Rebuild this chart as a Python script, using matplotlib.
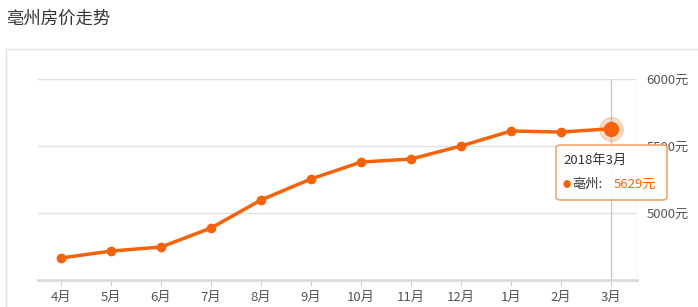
import matplotlib.pyplot as plt
from matplotlib.patches import FancyBboxPatch, Rectangle

plt.rcParams['font.family'] = ['Noto Sans CJK SC', 'DejaVu Sans']

months = ['4月', '5月', '6月', '7月', '8月', '9月', '10月', '11月', '12月', '1月', '2月', '3月']
prices = [4664, 4716, 4746, 4888, 5097, 5254, 5380, 5403, 5500, 5612, 5604, 5629]
yticks = [5000, 5500, 6000]
title = '亳州房价走势'
city = '亳州'
tip_date = '2018年3月'

orange = '#f5620a'
grid_c = '#e0e0e0'

fig = plt.figure(figsize=(6.98, 3.07), dpi=100)
fig.patch.set_facecolor('white')

# outer panel frame
fig.patches.append(Rectangle((6 / 698, -0.05), 1.0, 1 - 49 / 307 + 0.05,
                             transform=fig.transFigure, fill=False,
                             edgecolor='#e3e3e3', linewidth=1.0))
fig.text(7 / 698, 1 - 19 / 307, title, fontsize=12.5, color='#333333', va='center')

ax = fig.add_axes([38 / 698, 1 - 280 / 307, 599 / 698, 201 / 307])
x = list(range(len(months)))
ax.set_xlim(-0.46, 11.52)
ax.set_ylim(4500, 6000)

for y in yticks:
    ax.axhline(y, color=grid_c, linewidth=1, zorder=0)
ax.axvline(11.52, color=grid_c, linewidth=1, zorder=0)
# crosshair at hovered point
ax.axvline(11, color='#c8c8d0', linewidth=1, zorder=1)

ax.plot(x, prices, color=orange, linewidth=2.5, marker='o', markersize=6, zorder=3)
ax.plot(x[-1], prices[-1], 'o', color=orange, markersize=17, alpha=0.22, zorder=2)
ax.plot(x[-1], prices[-1], 'o', color=orange, markersize=10, zorder=4)

for s in ['top', 'left', 'right']:
    ax.spines[s].set_visible(False)
ax.spines['bottom'].set_color('#dadada')
ax.spines['bottom'].set_linewidth(2)

ax.set_xticks(x)
ax.set_xticklabels(months, fontsize=9.5, color='#555555')
ax.tick_params(axis='x', length=4, color='#cccccc', pad=4)
ax.yaxis.tick_right()
ax.set_yticks(yticks)
ax.set_yticklabels([f'{v}元' for v in yticks], fontsize=9.5, color='#555555')
ax.tick_params(axis='y', length=0, pad=7)

# tooltip
tb = FancyBboxPatch((556 / 698, 1 - 200 / 307), 111 / 698, 55 / 307,
                    boxstyle='round,pad=0,rounding_size=0.008',
                    transform=fig.transFigure, facecolor='white', alpha=0.93,
                    edgecolor='#f0a060', linewidth=1.2, zorder=10)
fig.patches.append(tb)
fig.text(563 / 698, 1 - 160 / 307, tip_date, fontsize=9.5, color='#333333',
         va='center', zorder=11)
fig.text(563 / 698, 1 - 184 / 307, '●', fontsize=6, color=orange, va='center', zorder=11)
fig.text(572 / 698, 1 - 184 / 307, city + ':', fontsize=9.5, color='#333333',
         va='center', zorder=11)
fig.text(614 / 698, 1 - 184 / 307, f'{prices[-1]}元', fontsize=9.5, color=orange,
         va='center', zorder=11)

fig.savefig('out.png', dpi=100)
